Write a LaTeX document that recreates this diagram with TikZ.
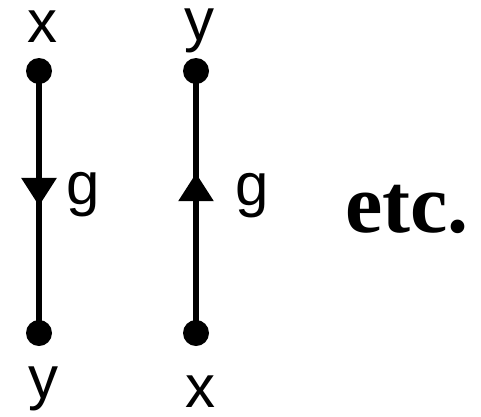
\documentclass[tikz,border=0pt]{standalone}
\usepackage{fontspec}
\setmainfont{Liberation Sans}
\newfontfamily\etcfont{Liberation Serif}
\usetikzlibrary{arrows.meta,decorations.markings}
\begin{document}
\begin{tikzpicture}[x=1pt,y=-1pt,
  dot/.style={circle,fill=black,inner sep=0pt,minimum size=26pt},
  edge/.style={line width=6pt},
  lbl/.style={inner sep=0pt,anchor=base,font=\fontsize{60}{60}\selectfont},
  midarrow/.style={postaction={decorate},decoration={markings,
    mark=at position #1 with {\arrow{Triangle[width=34pt,length=28pt]}}}}]
\useasboundingbox (0,0) rectangle (481,416);
% left
\node[dot] (a1) at (39,71) {};
\node[dot] (a2) at (39,333) {};
\draw[edge,midarrow=0.515] (a1.center) -- (a2.center);
\node[lbl] (ax) at (42,42) {x};
\node[lbl] (ay) at (43,398) {y};
\node[lbl,anchor=base west] (ag) at (66,204) {g};
% right
\node[dot] (b1) at (196,71) {};
\node[dot] (b2) at (196,333) {};
\draw[edge,midarrow=0.61] (b2.center) -- (b1.center);
\node[lbl] (by) at (199,40) {y};
\node[lbl] (bx) at (200,407) {x};
\node[lbl,anchor=base west] (bg) at (235,205) {g};
% etc
\node[inner sep=0pt,anchor=base west,font=\etcfont\bfseries\fontsize{84}{84}\selectfont] (etc) at (345,232) {etc.};
\end{tikzpicture}
\end{document}
